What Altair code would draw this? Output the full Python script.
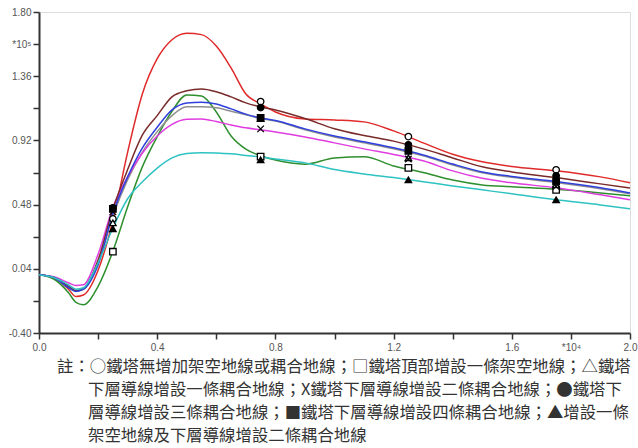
import altair as alt
import pandas as pd

# ---------------- data ----------------
x_vals = [0.0, 0.05, 0.10, 0.125, 0.15, 0.20, 0.25, 0.30, 0.35, 0.40, 0.45, 0.50, 0.55,
          0.60, 0.65, 0.70, 0.75, 0.80, 0.90, 1.00, 1.10, 1.20, 1.30, 1.40, 1.50, 1.60,
          1.75, 1.90, 2.00]

red = [0.0, -0.02, -0.10, -0.15, -0.14, 0.03, 0.37, 0.84, 1.24, 1.48, 1.61, 1.655, 1.645,
       1.567, 1.417, 1.238, 1.17, 1.115, 1.067, 1.06, 1.047, 0.985, 0.903, 0.825, 0.773, 0.741,
       0.712, 0.67, 0.63]
brown = [0.0, -0.02, -0.08, -0.11, -0.10, 0.10, 0.45, 0.72, 0.958, 1.09, 1.218, 1.26, 1.273,
         1.254, 1.218, 1.177, 1.149, 1.129, 1.07, 1.00, 0.953, 0.915, 0.862, 0.80, 0.739, 0.704,
         0.665, 0.622, 0.593]
blue = [0.0, -0.02, -0.09, -0.115, -0.10, 0.067, 0.42, 0.67, 0.869, 1.01, 1.129, 1.177, 1.182,
        1.17, 1.136, 1.10, 1.074, 1.057, 0.999, 0.95, 0.91, 0.869, 0.82, 0.758, 0.704, 0.673,
        0.638, 0.595, 0.56]
gray = [0.0, -0.02, -0.085, -0.11, -0.095, 0.08, 0.40, 0.65, 0.84, 0.98, 1.09, 1.15, 1.151,
        1.143, 1.12, 1.095, 1.07, 1.052, 0.993, 0.944, 0.904, 0.863, 0.814, 0.752, 0.698, 0.667,
        0.632, 0.589, 0.554]
magenta = [0.0, -0.015, -0.056, -0.075, -0.07, 0.14, 0.46, 0.67, 0.834, 0.95, 1.03, 1.065, 1.067,
           1.049, 1.026, 1.006, 0.992, 0.978, 0.944, 0.903, 0.862, 0.824, 0.78, 0.711, 0.66, 0.629,
           0.595, 0.547, 0.513]
green = [0.0, -0.03, -0.124, -0.19, -0.206, -0.08, 0.16, 0.465, 0.74, 0.946, 1.12, 1.232, 1.225,
         1.115, 0.95, 0.86, 0.815, 0.785, 0.757, 0.80, 0.808, 0.745, 0.70, 0.648, 0.615, 0.602,
         0.585, 0.56, 0.54]
cyan = [0.0, -0.02, -0.07, -0.10, -0.09, 0.081, 0.32, 0.52, 0.636, 0.73, 0.80, 0.83, 0.836,
        0.834, 0.828, 0.817, 0.807, 0.793, 0.766, 0.72, 0.69, 0.665, 0.637, 0.608, 0.581, 0.554,
        0.513, 0.478, 0.451]

cases = ["○", "□", "△", "X", "●", "■", "▲"]
case_colors = ["#e02a2a", "#2f8f2f", "#8f8f8f", "#e03ce0", "#7a2a2a", "#3040dc", "#2ec2c2"]
draw_order = ["▲", "□", "X", "△", "■", "●", "○"]
series = {"○": red, "□": green, "△": gray, "X": magenta, "●": brown, "■": blue, "▲": cyan}

marker_x = [0.25, 0.75, 1.25, 1.75]
marker_vals = {
    "○": [0.382, 1.186, 0.946, 0.718],
    "□": [0.157, 0.809, 0.732, 0.581],
    "△": [0.355, 1.07, 0.80, 0.615],
    "X": [0.43, 0.999, 0.793, 0.605],
    "●": [0.458, 1.145, 0.89, 0.677],
    "■": [0.451, 1.074, 0.848, 0.638],
    "▲": [0.314, 0.787, 0.65, 0.513],
}
marker_shapes = ["circle", "square", "triangle-up", "M-1,-1L1,1M-1,1L1,-1",
                 "circle", "square", "triangle-up"]
marker_fills = ["white", "white", "white", "transparent", "black", "black", "black"]

y_ticks = [-0.40, -0.18, 0.04, 0.26, 0.48, 0.70, 0.92, 1.14, 1.36, 1.58, 1.80]
y_tick_labels = ["-0.40", "", "0.04", "", "0.48", "", "0.92", "", "1.36", "*10⁵", "1.80"]
x_ticks = [0.0, 0.2, 0.4, 0.6, 0.8, 1.0, 1.2, 1.4, 1.6, 1.8, 2.0]
x_tick_labels = ["0.0", "", "0.4", "", "0.8", "", "1.2", "", "1.6", "*10⁴", "2.0"]

note_lines = [
    "註：○鐵塔無增加架空地線或耦合地線；□鐵塔頂部增設一條架空地線；△鐵塔",
    "下層導線增設一條耦合地線；X鐵塔下層導線增設二條耦合地線；●鐵塔下",
    "層導線增設三條耦合地線；■鐵塔下層導線增設四條耦合地線；▲增設一條",
    "架空地線及下層導線增設二條耦合地線",
]

# ---------------- tables ----------------
rows = []
for c in cases:
    for xv, yv in zip(x_vals, series[c]):
        rows.append({"x": xv, "y": yv, "case": c, "order": draw_order.index(c)})
lines_df = pd.DataFrame(rows)

mrows = []
for c in cases:
    for xv, yv in zip(marker_x, marker_vals[c]):
        mrows.append({"x": xv, "y": yv, "case": c})
markers_df = pd.DataFrame(mrows)


def label_expr(vals, labels):
    parts = []
    for v, lab in zip(vals, labels):
        parts.append(f"abs(datum.value - ({v})) < 0.001 ? '{lab}'")
    return " : ".join(parts) + " : ''"


xscale = alt.Scale(domain=[0, 2.0], nice=False, zero=False)
yscale = alt.Scale(domain=[-0.40, 1.80], nice=False, zero=False)

axis_style = dict(title=None, grid=False, tickSize=6, tickColor="#333", tickWidth=1.5,
                  domainColor="#333", domainWidth=2, labelFont="Liberation Sans",
                  labelFontSize=10, labelColor="#555", labelFlush=False, labelOverlap=False)
x_axis = alt.Axis(values=x_ticks, labelExpr=label_expr(x_ticks, x_tick_labels),
                  labelPadding=3, **axis_style)
y_axis = alt.Axis(values=y_ticks, labelExpr=label_expr(y_ticks, y_tick_labels),
                  labelPadding=2, **axis_style)

lines = alt.Chart(lines_df).mark_line(interpolate="monotone", strokeWidth=1.5).encode(
    x=alt.X("x:Q", scale=xscale, axis=x_axis),
    y=alt.Y("y:Q", scale=yscale, axis=y_axis),
    color=alt.Color("case:N", scale=alt.Scale(domain=cases, range=case_colors), legend=None),
    detail="case:N",
    order=alt.Order("order:Q"),
)

points = alt.Chart(markers_df).mark_point(size=42, strokeWidth=1.3, opacity=1, filled=False,
                                          stroke="black").encode(
    x=alt.X("x:Q", scale=xscale, axis=x_axis),
    y=alt.Y("y:Q", scale=yscale, axis=y_axis),
    shape=alt.Shape("case:N", scale=alt.Scale(domain=cases, range=marker_shapes), legend=None),
    fill=alt.Fill("case:N", scale=alt.Scale(domain=cases, range=marker_fills), legend=None),
)

# note below the chart (annotation text, placed in pixels below the plot area)
note_x = [18, 49, 49, 49]
note_y = [355, 378, 401, 424]
note_layers = []
for txt, nx, ny in zip(note_lines, note_x, note_y):
    note_layers.append(
        alt.Chart(pd.DataFrame({"t": [txt]})).mark_text(
            align="left", baseline="middle", font="Noto Sans CJK TC", fontSize=16.4,
            color="#333").encode(text="t:N", x=alt.value(nx), y=alt.value(ny))
    )

chart = alt.layer(lines, points, *note_layers).properties(
    width=591,
    height=321,
    autosize=alt.AutoSizeParams(type="none"),
    padding={"left": 39, "top": 12, "right": 8, "bottom": 115},
).configure_view(stroke="#333", strokeWidth=2).configure(background="white")

chart.save("out.html", embed_options={"renderer": "svg", "actions": False})
